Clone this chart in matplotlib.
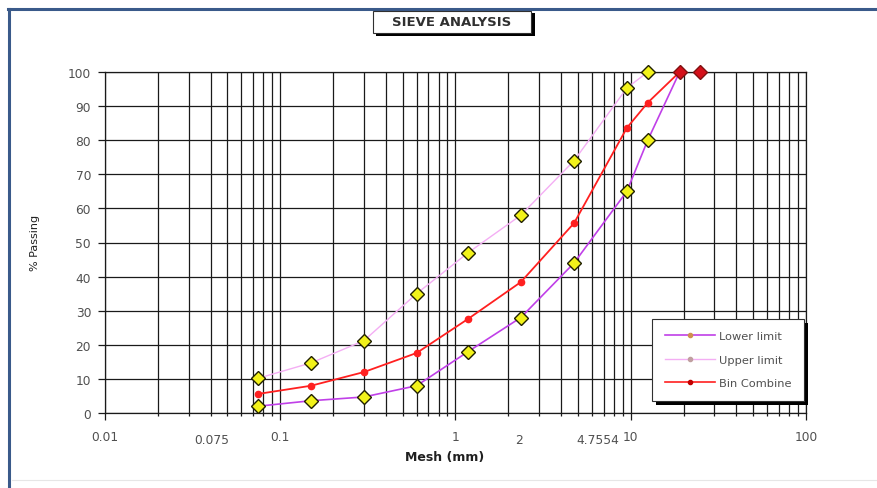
import matplotlib
matplotlib.use("Agg")
import matplotlib.pyplot as plt
from matplotlib.lines import Line2D
from matplotlib.patches import Rectangle
from matplotlib.ticker import LogLocator, FixedLocator, NullFormatter, FixedFormatter

plt.rcParams['font.family'] = ['DejaVu Sans']

# ---- data ----
sizes_lower = [0.075, 0.15, 0.3, 0.6, 1.18, 2.36, 4.75, 9.5, 12.5, 19]
lower_limit = [2, 3.6, 4.7, 8, 18, 28, 44, 65, 80, 100]
sizes_upper = [0.075, 0.15, 0.3, 0.6, 1.18, 2.36, 4.75, 9.5, 12.5]
upper_limit = [10.2, 14.7, 21.2, 35, 47, 58, 74, 95.3, 100]
sizes_comb = [0.075, 0.15, 0.3, 0.6, 1.18, 2.36, 4.75, 9.5, 12.5, 19]
bin_combine = [5.6, 8.0, 12.0, 17.6, 27.6, 38.4, 55.7, 83.6, 91, 100]
full_sizes = [19, 25]
full_pass = [100, 100]

x_ticks = [0.01, 0.1, 1, 10, 100]
x_tick_labels = ['0.01', '0.1', '1', '10', '100']
y_ticks = list(range(0, 101, 10))
extra_labels = ['0.075', '2', '4.7554']

W, H = 878, 489
fig = plt.figure(figsize=(W / 100, H / 100), dpi=100)
fig.patch.set_facecolor('white')

def fx(px):
    return px / W

def fy(py):
    return 1 - py / H

ax = fig.add_axes([fx(105), fy(414), fx(806) - fx(105), fy(73) - fy(414)])
ax.set_xscale('log')
ax.set_xlim(0.01, 100)
ax.set_ylim(0, 100)

ax.xaxis.set_major_locator(FixedLocator(x_ticks))
ax.xaxis.set_major_formatter(FixedFormatter(x_tick_labels))
ax.xaxis.set_minor_locator(LogLocator(base=10, subs=range(2, 10)))
ax.xaxis.set_minor_formatter(NullFormatter())
ax.set_yticks(y_ticks)

gc = '#1a1a1a'
ax.grid(True, which='major', axis='both', color=gc, lw=0.9)
ax.grid(True, which='minor', axis='x', color=gc, lw=0.9)
ax.set_axisbelow(True)
for s in ax.spines.values():
    s.set_color(gc)
    s.set_linewidth(0.9)

tick_col = '#505050'
ax.tick_params(axis='both', which='major', direction='out', length=5, width=0.9,
               color=gc, labelsize=8.8, labelcolor=tick_col, pad=5)
ax.tick_params(axis='x', which='major', pad=7)
ax.tick_params(axis='x', which='minor', direction='out', length=2.5, width=0.9, color=gc)

c_low = '#C040E8'
c_up = '#F4AEF4'
c_comb = '#FF2020'

ax.plot(sizes_upper, upper_limit, color=c_up, lw=1.0, zorder=3)
ax.plot(sizes_lower, lower_limit, color=c_low, lw=1.2, zorder=3)
ax.plot(sizes_comb, bin_combine, color=c_comb, lw=1.3, marker='o', ms=4.5,
        mfc=c_comb, mec=c_comb, zorder=4)

dm = 7.5
ax.plot(sizes_lower[:-1], lower_limit[:-1], ls='none', marker='D', ms=dm,
        mfc='#F2F21A', mec='#202000', mew=1.0, zorder=5, clip_on=False)
ax.plot(sizes_upper, upper_limit, ls='none', marker='D', ms=dm,
        mfc='#F2F21A', mec='#202000', mew=1.0, zorder=5, clip_on=False)
ax.plot(full_sizes, full_pass, ls='none', marker='D', ms=dm,
        mfc='#D4101A', mec='#801010', mew=1.0, zorder=6, clip_on=False)

# legend
handles = [
    Line2D([], [], color=c_low, lw=1.2, marker='o', ms=3, mfc='#D09050', mec='#D09050'),
    Line2D([], [], color=c_up, lw=1.0, marker='o', ms=3, mfc='#C0A0A0', mec='#C0A0A0'),
    Line2D([], [], color=c_comb, lw=1.2, marker='o', ms=3, mfc='#C00000', mec='#C00000'),
]
leg = ax.legend(handles, ['Lower limit', 'Upper limit', 'Bin Combine'],
                loc='lower left', bbox_to_anchor=((652 - 105) / 701, (414 - 402) / 341),
                borderaxespad=0, frameon=True, fancybox=False, fontsize=8.2,
                handlelength=4.4, labelspacing=1.2, borderpad=1.1, handletextpad=0.4,
                framealpha=1, edgecolor='#303030', labelcolor='#505050')
leg.get_frame().set_linewidth(0.8)

fig.canvas.draw()
bb = leg.get_window_extent()
shadow = Rectangle((bb.x0 + 4, bb.y0 - 4), bb.width, bb.height, transform=None,
                   facecolor='black', edgecolor='none', zorder=9)
fig.add_artist(shadow)
leg.remove()
fig.add_artist(leg)
leg.set_zorder(11)

# extra axis labels
fig.text(fx(212), fy(441), extra_labels[0], ha='center', va='center', fontsize=8.8, color=tick_col)
fig.text(fx(519), fy(441), extra_labels[1], ha='center', va='center', fontsize=8.8, color=tick_col)
fig.text(fx(598), fy(441), extra_labels[2], ha='center', va='center', fontsize=8.8, color=tick_col)
fig.text(fx(445), fy(458), 'Mesh (mm)', ha='center', va='center', fontsize=9,
         fontweight='bold', color='#202020')
fig.text(fx(35), fy(243), '% Passing', ha='center', va='center', fontsize=8,
         rotation=90, color='#202020')

# title box with shadow
fig.add_artist(Rectangle((fx(376), fy(37)), fx(535) - fx(376), fy(14) - fy(37),
                         transform=fig.transFigure, facecolor='black', edgecolor='none', zorder=5))
fig.add_artist(Rectangle((fx(373), fy(34)), fx(531) - fx(373), fy(12) - fy(34),
                         transform=fig.transFigure, facecolor='white', edgecolor='#303030',
                         lw=0.8, zorder=6))
fig.text(fx(452), fy(22), 'SIEVE ANALYSIS', ha='center', va='center', fontsize=9.5,
         fontweight='bold', color='#303030', zorder=7)

# outer frame
fig.add_artist(Line2D([fx(8), 1], [fy(10), fy(10)], transform=fig.transFigure,
                      color='#3a5a8a', lw=2.2, zorder=4))
fig.add_artist(Line2D([fx(9), fx(9)], [fy(10), 0], transform=fig.transFigure,
                      color='#3a5a8a', lw=2.2, zorder=4))
fig.add_artist(Line2D([fx(12), 1], [fy(481), fy(481)], transform=fig.transFigure,
                      color='#e6e6e6', lw=0.8, zorder=4))

fig.savefig('out.png', dpi=100, facecolor='white')
